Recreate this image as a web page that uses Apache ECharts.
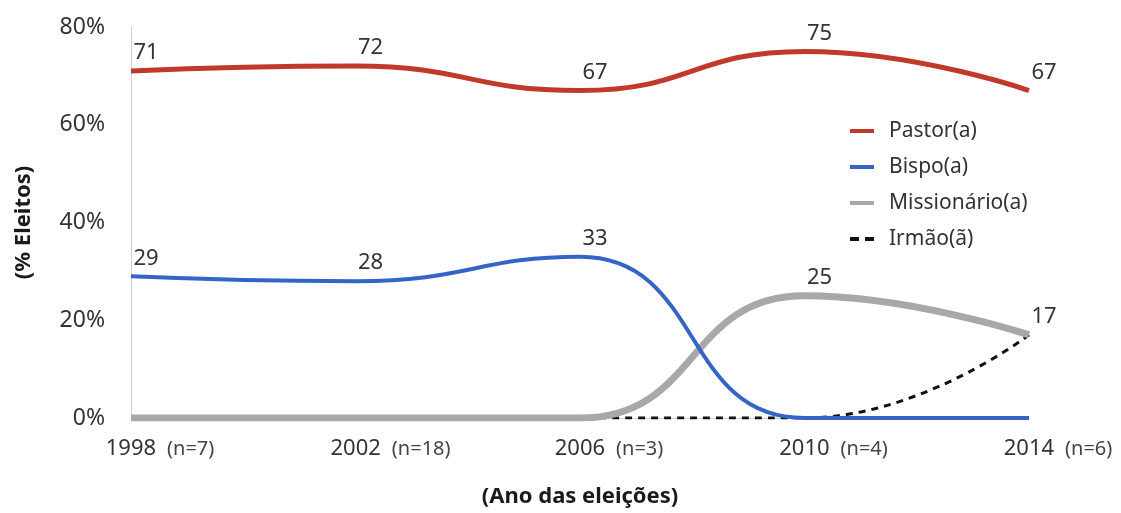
<!DOCTYPE html>
<html><head><meta charset="utf-8">
<script src="https://cdn.jsdelivr.net/npm/echarts@6/dist/echarts.min.js"></script>
<style>html,body{margin:0;padding:0;background:#fff}#c{width:1121px;height:513px}</style>
</head><body><div id="c"></div>
<script>
const years = ['1998','2002','2006','2010','2014'];
const nLabels = ['(n=7)','(n=18)','(n=3)','(n=4)','(n=6)'];
const pastor = [71, 72, 67, 75, 67];
const bispo = [29, 28, 33, 0, 0];
const missionario = [0, 0, 0, 25, 17];
const irmao = [0, 0, 0, 0, 17];
const yTicks = [0, 20, 40, 60, 80];

const FONT = '"Noto Sans"';
const N_SIZE = 20, N_GAP = 11;
const labelCfg = {show:true, position:'top', distance:4, offset:[15,-3], fontSize:22, color:'#333', fontFamily:FONT,
  formatter: p => p.value};
function withLabels(arr){ return arr.map(v => ({value:v, label:{show: v > 0}})); }
const LINE_ICON = 'path://M0,0H24V4H0Z';
const DASH_ICON = 'path://M0,0H9V4H0ZM15,0H24V4H15Z';

// measure the "(n=..)" suffix so that the year itself sits centred on its tick
const cv = document.createElement('canvas').getContext('2d');
cv.font = N_SIZE + 'px "Noto Sans"';
const rich = {
  y:{fontSize:22, color:'#333', fontFamily:FONT},
  n:{fontSize:N_SIZE, color:'#444', fontFamily:FONT, padding:[0,0,0,N_GAP]}
};
nLabels.forEach((t, i) => { rich['sp' + i] = {width: Math.round(cv.measureText(t).width) + N_GAP}; });

const chart = echarts.init(document.getElementById('c'));
chart.setOption({
  animation:false,
  textStyle:{fontFamily:FONT},
  grid:{left:131, right:92, top:27, bottom:94},
  legend:{
    orient:'vertical', left:845, top:114, itemWidth:24, itemHeight:4, itemGap:12,
    textStyle:{fontSize:21, color:'#333', fontFamily:FONT, lineHeight:24, padding:[0,0,0,10]},
    data:[
      {name:'Pastor(a)', icon:LINE_ICON},
      {name:'Bispo(a)', icon:LINE_ICON},
      {name:'Missionário(a)', icon:LINE_ICON},
      {name:'Irmão(ã)', icon:DASH_ICON}
    ]
  },
  xAxis:{
    type:'category', boundaryGap:false, data:years,
    name:'(Ano das eleições)', nameLocation:'middle', nameGap:68,
    nameTextStyle:{fontSize:22, fontWeight:'bold', color:'#1a1a1a', fontFamily:FONT},
    axisLine:{show:true, lineStyle:{color:'#d0d0d0', width:1}},
    axisTick:{show:false},
    axisLabel:{
      margin:20, interval:0,
      formatter:(v, i) => '{sp' + i + '|}{y|' + v + '}{n|' + nLabels[i] + '}',
      rich: rich
    },
    splitLine:{show:false}
  },
  yAxis:{
    type:'value', min:0, max:80, interval:20,
    name:'(% Eleitos)', nameLocation:'middle', nameGap:96, nameRotate:90,
    nameTextStyle:{fontSize:22, fontWeight:'bold', color:'#1a1a1a', fontFamily:FONT},
    axisLine:{show:true, lineStyle:{color:'#d0d0d0', width:1}},
    axisTick:{show:false},
    splitLine:{show:false},
    axisLabel:{margin:26, fontSize:23, color:'#333', fontFamily:FONT,
      formatter: v => yTicks.includes(v) ? v + '%' : ''}
  },
  series:[
    {name:'Pastor(a)', type:'line', smooth:0.5, symbol:'circle', symbolSize:0, data:pastor,
     lineStyle:{color:'#c0392b', width:5}, itemStyle:{color:'#c0392b'}, label:labelCfg, z:5},
    {name:'Bispo(a)', type:'line', smooth:0.5, symbol:'circle', symbolSize:0, data:withLabels(bispo),
     lineStyle:{color:'#3465c6', width:4}, itemStyle:{color:'#3465c6'}, label:labelCfg, z:4},
    {name:'Missionário(a)', type:'line', smooth:0.5, symbol:'circle', symbolSize:0, data:withLabels(missionario),
     lineStyle:{color:'#a8a8a8', width:7}, itemStyle:{color:'#a8a8a8'}, label:labelCfg, z:3},
    {name:'Irmão(ã)', type:'line', smooth:0.5, symbol:'circle', symbolSize:0, data:irmao,
     lineStyle:{color:'#111', width:3, type:[7,6]}, itemStyle:{color:'#111'}, z:2}
  ]
});
</script></body></html>
